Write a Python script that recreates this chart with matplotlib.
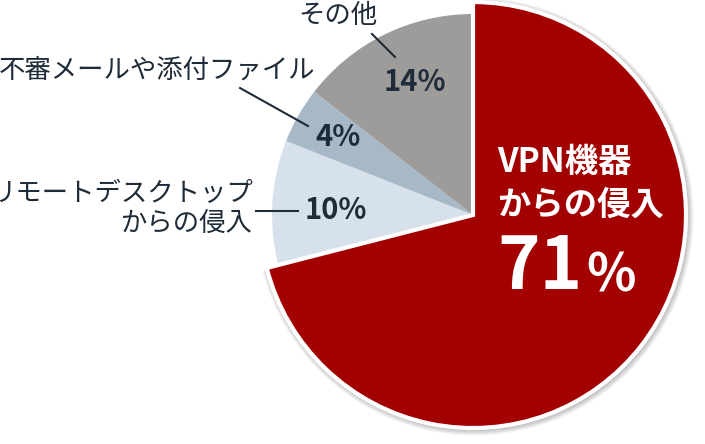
import matplotlib.pyplot as plt
from matplotlib.patches import Wedge

plt.rcParams['font.family'] = ['Noto Sans CJK JP', 'DejaVu Sans']

labels = ['VPN機器\nからの侵入', 'リモートデスクトップ\nからの侵入', '不審メールや添付ファイル', 'その他']
shares = [71, 10, 4.5, 14.5]
pct_labels = ['71', '10%', '4%', '14%']
colors = ['#a30000', '#d7e1eb', '#a7b9c7', '#9e9b9b']
text_color = '#1e2b38'

W, H = 705, 444
fig = plt.figure(figsize=(W / 100, H / 100), dpi=100)
ax = fig.add_axes([0, 0, 1, 1])

def Y(y):
    return H - y

R = 201
wedges, _ = ax.pie(shares, colors=colors, startangle=90, counterclock=False,
                   center=(473, Y(215)), radius=R, explode=[7 / R, 0, 0, 0],
                   wedgeprops=dict(linewidth=0))
ax.set_xlim(0, W)
ax.set_ylim(0, H)
ax.set_aspect('equal')
ax.axis('off')

red = wedges[0]
red.set_radius(213)
red.set_edgecolor('white')
red.set_linewidth(3)
red.set_zorder(3)
# soft shadow
cx, cy = red.center
for k in range(1, 7):
    g = Wedge((cx + 1.5, cy - 1.5), 213 + k, red.theta1, red.theta2,
              facecolor='black', edgecolor='none', alpha=0.045, zorder=2)
    ax.add_patch(g)

# percentages on small slices
pct_pos = [None, (336, 210), (338, 137), (415, 82)]
for t, p in zip(pct_labels, pct_pos):
    if p is None:
        continue
    ax.text(p[0], Y(p[1]), t, fontsize=21, fontweight='bold',
            color=text_color, ha='center', va='center', zorder=5)

# big label inside red slice
ax.text(497, Y(184), labels[0], fontsize=24, fontweight='bold', color='white',
        ha='left', va='center', linespacing=1.35, zorder=5)
ax.text(497, Y(268), pct_labels[0], fontsize=52, fontweight='bold', color='white',
        ha='left', va='center', zorder=5)
ax.text(586, Y(276), '%', fontsize=37, fontweight='bold', color='white',
        ha='left', va='center', zorder=5)

# outside labels with leader lines
ax.text(338, Y(15), labels[3], fontsize=19, color=text_color, ha='center', va='center')
ax.plot([372, 395], [Y(34), Y(57)], color=text_color, lw=1.5, zorder=6)

ax.text(157, Y(70), labels[2], fontsize=19, color=text_color, ha='center', va='center')
ax.plot([240, 308], [Y(88), Y(126)], color=text_color, lw=1.5, zorder=6)

ax.text(253, Y(209), labels[1], fontsize=19, color=text_color, ha='right', va='center',
        multialignment='right', linespacing=1.15)
ax.plot([256, 298], [Y(211), Y(211)], color=text_color, lw=1.5, zorder=6)

fig.savefig('out.png', dpi=100)
